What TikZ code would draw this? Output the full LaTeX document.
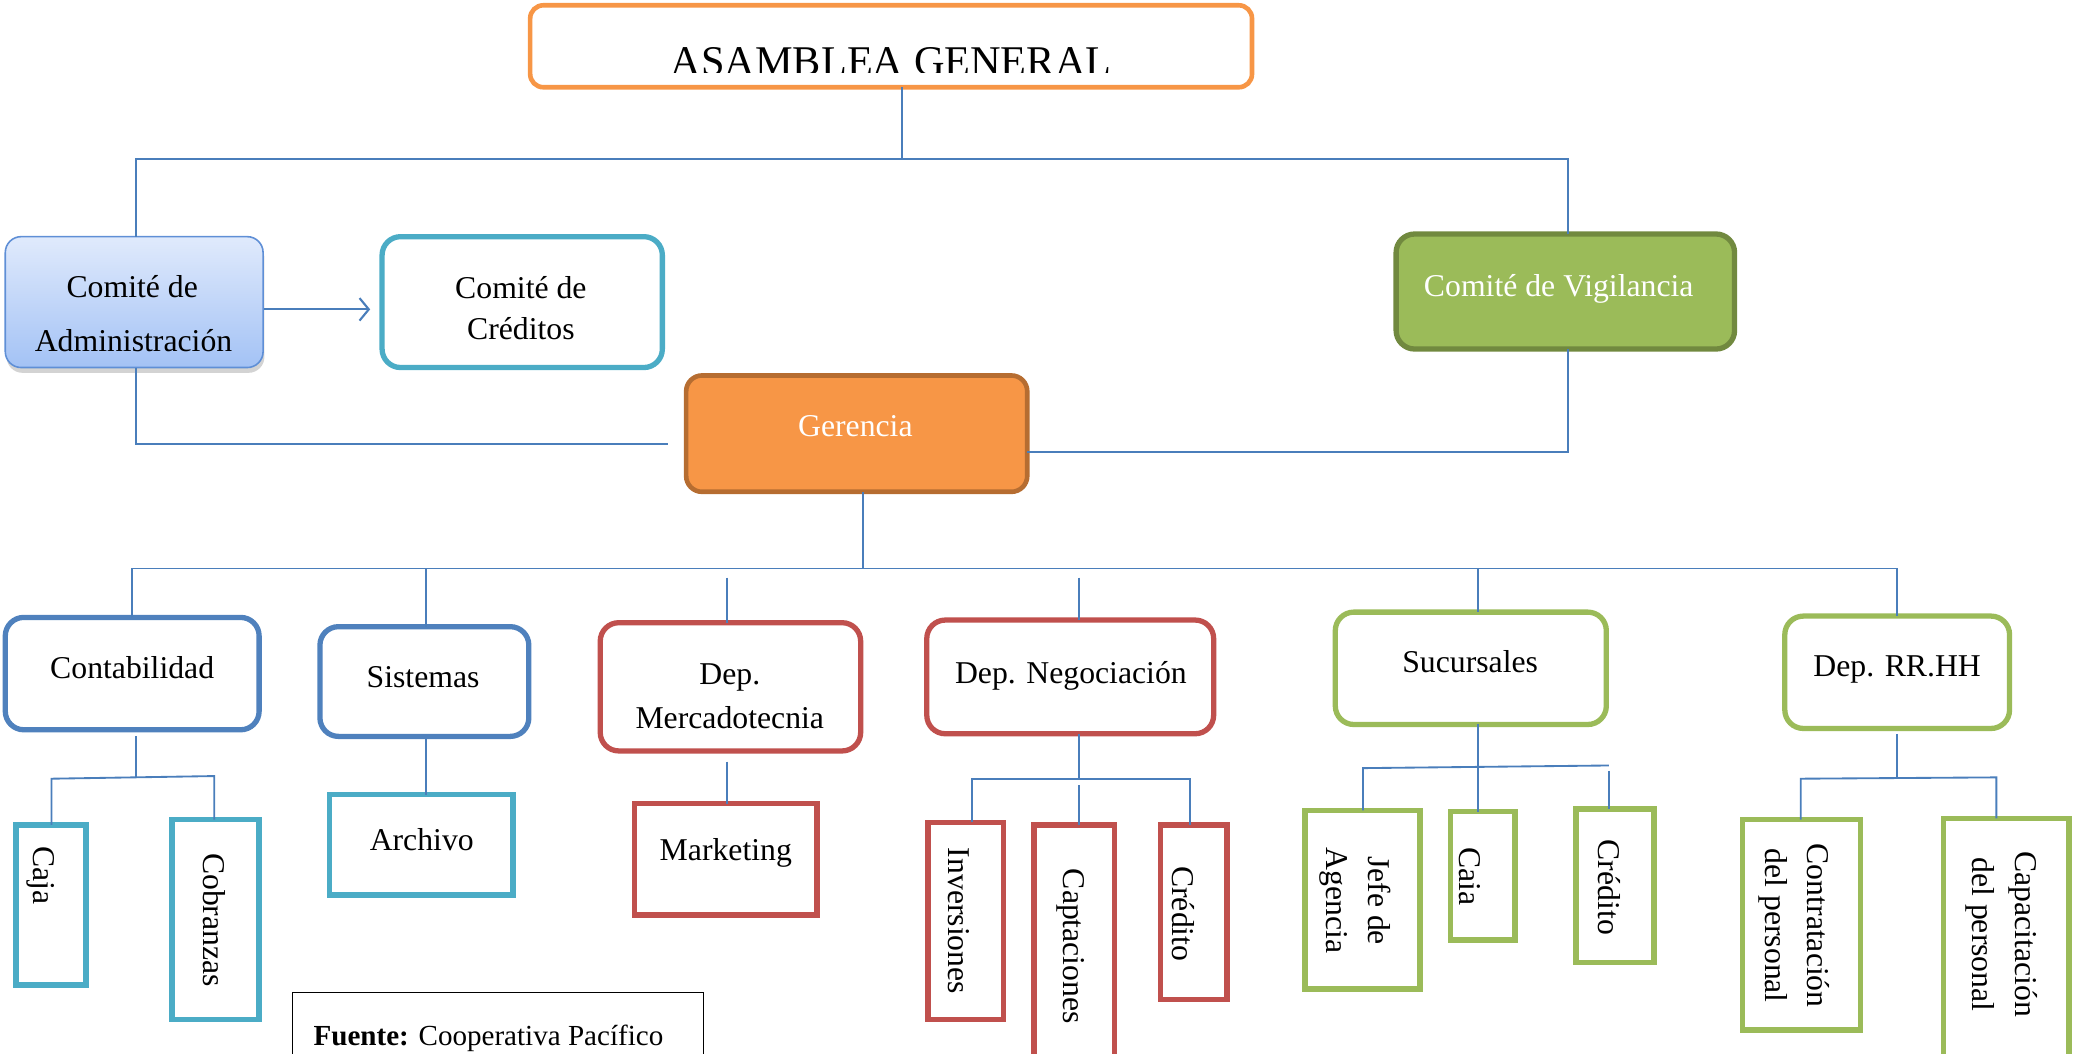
\documentclass[tikz,border=0pt]{standalone}
\usepackage{fontspec}
\setmainfont{Liberation Serif}
\usetikzlibrary{arrows.meta,shadows}

\definecolor{cOrange}{HTML}{F79646}
\definecolor{cOrangeD}{HTML}{B66D31}
\definecolor{cTeal}{HTML}{4BACC6}
\definecolor{cBlue}{HTML}{4F81BD}
\definecolor{cRed}{HTML}{C0504D}
\definecolor{cGreen}{HTML}{9BBB59}
\definecolor{cGreenD}{HTML}{71893F}
\definecolor{cLine}{HTML}{4A7EBB}
\definecolor{cAdmTop}{HTML}{E0EAFC}
\definecolor{cAdmBot}{HTML}{A3C2F5}
\definecolor{cAdmEdge}{HTML}{5F8FD6}

% box given by its corners: name, x1, y1, x2, y2, style
\newcommand\orgbox[6]{%
  \node[#6, minimum width={(#4-#2)*1pt}, minimum height={(#5-#3)*1pt}]
    (#1) at ({(#2+#4)/2},{(#3+#5)/2}) {};}

\tikzset{
  base/.style={inner sep=0pt, outer sep=0pt},
  roundbox/.style={base, rounded corners=14pt, line width=4pt, fill=white},
  sqbox/.style={base, line width=4pt, fill=white},
  conn/.style={draw=cLine, line width=1.4pt},
  lbl/.style={font=\fontsize{24}{32}\selectfont, inner sep=0pt, align=center},
  blbl/.style={lbl, anchor=base},
  rlbl/.style={lbl, rotate=-90, anchor=west},
}

\begin{document}
\begin{tikzpicture}[x=1pt,y=-1pt]
\useasboundingbox (0,0) rectangle (1568,797);
\clip (0,0) rectangle (1568,797);

% ---- top level ----
\orgbox{asam}{401}{4}{947}{66}{base, rounded corners=10pt, draw=cOrange, line width=3.5pt, fill=white}
\begin{scope}
  \clip (405,8) rectangle (943,54.5);
  \node[lbl, anchor=base, font=\fontsize{32}{34}\selectfont] (tasam) at (674,57) {ASAMBLEA GENERAL};
\end{scope}

\orgbox{adm}{4}{179}{199}{278}{base, rounded corners=12pt, draw=cAdmEdge, line width=1.2pt,
  top color=cAdmTop, bottom color=cAdmBot,
  drop shadow={shadow xshift=1pt, shadow yshift=-4pt, opacity=0.35}}
\node[blbl] (tadm1) at (100,225) {Comité de};
\node[blbl] (tadm2) at (101,266) {Administración};

\orgbox{cred}{289}{179}{501}{278}{roundbox, draw=cTeal}
\node[blbl] (tcred1) at (394,226) {Comité de};
\node[blbl] (tcred2) at (394,257) {Créditos};

\orgbox{vig}{1056}{177}{1312}{264}{base, rounded corners=14pt, draw=cGreenD, fill=cGreen, line width=4pt}
\node[blbl, text=white] (tvig) at (1179,224) {Comité de Vigilancia};

\orgbox{ger}{519}{284}{777}{372}{base, rounded corners=12pt, draw=cOrangeD, fill=cOrange, line width=3.5pt}
\node[blbl, text=white] (tger) at (647,330) {Gerencia};

% ---- departments ----
\orgbox{cont}{4}{467}{196}{552}{roundbox, draw=cBlue}
\node[blbl] (tcont) at (100,513) {Contabilidad};
\orgbox{sist}{242}{474}{400}{557}{roundbox, draw=cBlue}
\node[blbl] (tsist) at (320,520) {Sistemas};
\orgbox{merc}{454}{471}{651}{568}{roundbox, draw=cRed}
\node[blbl] (tmerc1) at (552,518) {Dep.};
\node[blbl] (tmerc2) at (552,551) {Mercadotecnia};
\orgbox{neg}{701}{469}{918}{555}{roundbox, draw=cRed}
\node[blbl] (tneg) at (810,517) {Dep. Negociación};
\orgbox{suc}{1010}{463}{1215}{548}{roundbox, draw=cGreen}
\node[blbl] (tsuc) at (1112,509) {Sucursales};
\orgbox{rrhh}{1350}{466}{1520}{551}{roundbox, draw=cGreen}
\node[blbl] (trrhh) at (1435,512) {Dep. RR.HH};

% ---- units ----
\orgbox{caja1}{12}{624}{65}{745}{sqbox, draw=cTeal}
\node[rlbl] (tcaja1) at (31,640) {Caja};
\orgbox{cobr}{130}{620}{196}{771}{sqbox, draw=cTeal}
\node[rlbl] (tcobr) at (162,645) {Cobranzas};
\orgbox{arch}{249}{601}{388}{677}{sqbox, draw=cTeal}
\node[blbl] (tarch) at (319,643) {Archivo};
\orgbox{mkt}{480}{608}{618}{692}{sqbox, draw=cRed}
\node[blbl] (tmkt) at (549,651) {Marketing};
\orgbox{inv}{702}{622}{759}{771}{sqbox, draw=cRed}
\node[rlbl] (tinv) at (725,641) {Inversiones};
\orgbox{capt}{782}{624}{843}{815}{sqbox, draw=cRed}
\node[rlbl] (tcapt) at (810,657) {Captaciones};
\orgbox{cred2}{878}{624}{928}{756}{sqbox, draw=cRed}
\node[rlbl] (tcred2x) at (895,655) {Crédito};
\orgbox{jefe}{987}{613}{1074}{748}{sqbox, draw=cGreen}
\node[rlbl] (tjefe) at (1025,641) {Jefe de\\Agencia};
\orgbox{caja2}{1097}{614}{1146}{711}{sqbox, draw=cGreen}
\node[rlbl] (tcaja2) at (1112,641) {Caia};
\orgbox{cred3}{1192}{612}{1251}{728}{sqbox, draw=cGreen}
\node[rlbl] (tcred3) at (1217,635) {Crédito};
\orgbox{contr}{1318}{620}{1407}{779}{sqbox, draw=cGreen}
\node[rlbl] (tcontr) at (1357,638) {Contratación\\del personal};
\orgbox{capac}{1470}{619}{1565}{815}{sqbox, draw=cGreen}
\node[rlbl] (tcapac) at (1514,644) {Capacitación\\del personal};

% ---- source note ----
\orgbox{fuente}{221}{751}{532}{815}{base, draw=black, line width=0.8pt}
\node[inner sep=0pt, anchor=base west, font=\fontsize{22}{26}\selectfont] (tfuente) at (237,791)
  {\textbf{Fuente:} Cooperativa Pacífico};

% ---- connectors: upper part ----
\coordinate (j1) at (682,120);
\coordinate (b1a) at (103,120);
\coordinate (b1b) at (1186,120);
\draw[conn] (asam.south -| j1) -- (j1);
\draw[conn] (adm.north -| b1a) -- (b1a) -- (b1b) -- (vig.north -| b1b);

\coordinate (arrS) at (200,234);
\coordinate (arrE) at (280,234);
\draw[conn, -{Straight Barb[length=7pt,width=17pt,line width=1.6pt]}] (arrS) -- (arrE);

\coordinate (g1) at (103,336);
\coordinate (g1e) at (505,336);
\draw[conn] (adm.south -| g1) -- (g1) -- (g1e);
\coordinate (g2) at (1186,342);
\draw[conn] (ger.east |- g2) -- (g2) -- (vig.south -| g2);

% ---- connectors: departments ----
\coordinate (j2) at (653,430);
\coordinate (b2a) at (100,430);
\coordinate (b2b) at (1435,430);
\draw[conn] (ger.south -| j2) -- (j2);
\draw[conn] (cont.north -| b2a) -- (b2a) -- (b2b) -- (rrhh.north -| b2b);
\coordinate (sx) at (322,430);
\draw[conn] (sx) -- (sist.north -| sx);
\coordinate (mx) at (550,437);
\draw[conn] (mx) -- (merc.north -| mx);
\coordinate (nx) at (816,437);
\draw[conn] (nx) -- (neg.north -| nx);
\coordinate (ux) at (1118,430);
\draw[conn] (ux) -- (suc.north -| ux);

% ---- connectors: units ----
\coordinate (c0) at (103,557);
\coordinate (c1) at (103,588);
\coordinate (c1a) at (39,589);
\coordinate (c1b) at (162,587);
\draw[conn] (c0) -- (c1);
\draw[conn] (caja1.north -| c1a) -- (c1a) -- (c1b) -- (cobr.north -| c1b);

\coordinate (ax) at (322,559);
\draw[conn] (ax) -- (arch.north -| ax);
\coordinate (m0) at (550,576);
\draw[conn] (m0) -- (mkt.north -| m0);

\coordinate (n1) at (816,589);
\coordinate (n1a) at (735,589);
\coordinate (n1b) at (900,589);
\coordinate (n2) at (816,594);
\draw[conn] (neg.south -| n1) -- (n1);
\draw[conn] (inv.north -| n1a) -- (n1a) -- (n1b) -- (cred2.north -| n1b);
\draw[conn] (n2) -- (capt.north -| n2);

\coordinate (s1) at (1118,580);
\coordinate (s1a) at (1031,581);
\coordinate (s1b) at (1217,579);
\coordinate (s2) at (1217,583);
\draw[conn] (suc.south -| s1) -- (caja2.north -| s1);
\draw[conn] (jefe.north -| s1a) -- (s1a) -- (s1b);
\draw[conn] (s2) -- (cred3.north -| s2);

\coordinate (r0) at (1435,555);
\coordinate (r1) at (1435,588);
\coordinate (r1a) at (1362,589);
\coordinate (r1b) at (1510,588);
\draw[conn] (r0) -- (r1);
\draw[conn] (contr.north -| r1a) -- (r1a) -- (r1b) -- (capac.north -| r1b);
\end{tikzpicture}
\end{document}
